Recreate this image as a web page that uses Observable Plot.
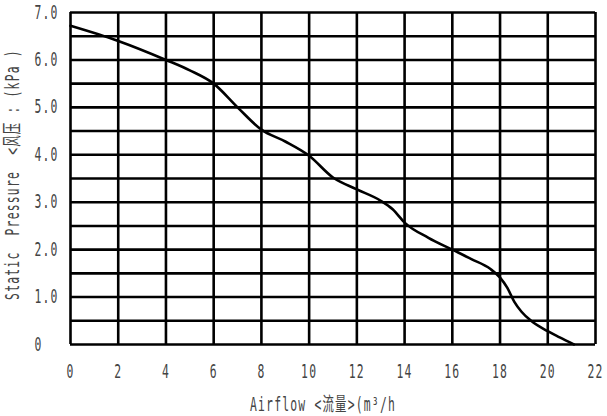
<!DOCTYPE html>
<html><head><meta charset="utf-8">
<script src="https://cdn.jsdelivr.net/npm/d3@7"></script>
<script src="https://cdn.jsdelivr.net/npm/@observablehq/plot@0.6"></script>
<style>body{margin:0;background:#fff} svg{display:block}</style>
</head><body><div id="chart"></div>
<script>
const airflow  = [0, 2, 4, 5, 6, 7, 8, 9, 10, 11, 12, 13, 13.5, 14, 15, 16, 16.8, 17.6, 18, 18.3, 18.6, 18.9, 19.3, 20, 20.5, 21.1];
const pressure = [6.72, 6.40, 6.0, 5.78, 5.5, 5.0, 4.53, 4.28, 3.98, 3.52, 3.27, 3.03, 2.85, 2.57, 2.25, 2.0, 1.8, 1.59, 1.41, 1.2, 0.9, 0.69, 0.5, 0.28, 0.15, 0.0];
const xTicks = [0, 2, 4, 6, 8, 10, 12, 14, 16, 18, 20, 22];
const yTicks = [0, 1, 2, 3, 4, 5, 6, 7];
const yGrid  = [0, 0.5, 1, 1.5, 2, 2.5, 3, 3.5, 4, 4.5, 5, 5.5, 6, 6.5, 7];
const xLabel = "Airflow <流量>(m³/h";
const yLabel = "Static  Pressure  <风压 : (kPa )";

const data = airflow.map((x, i) => ({x, y: pressure[i]}));
const ink = "#000";
const txt = "#444";

const chart = Plot.plot({
  width: 607, height: 416,
  marginLeft: 70, marginRight: 12, marginTop: 12, marginBottom: 72,
  x: {domain: [0, 22], label: null},
  y: {domain: [0, 7], label: null},
  style: {fontFamily: "'DejaVu Sans Mono', 'Noto Sans CJK SC', monospace", background: "#fff"},
  marks: [
    Plot.ruleY(yGrid, {stroke: ink, strokeWidth: 2.6}),
    Plot.ruleX(xTicks, {stroke: ink, strokeWidth: 2.6}),
    Plot.line(data, {x: "x", y: "y", curve: "monotone-x", stroke: ink, strokeWidth: 2.6}),
    Plot.axisX(xTicks, {tickSize: 0, tickPadding: 20, fontSize: 19, fill: txt, tickFormat: d => String(d)}),
    Plot.axisY(yTicks, {tickSize: 0, textAnchor: "start", dx: -27, fontSize: 19, fill: txt,
      tickFormat: d => d === 0 ? "0" : d.toFixed(1)}),
    Plot.text([xLabel], {frameAnchor: "bottom", textAnchor: "middle", dx: -10, dy: 66, fontSize: 19, fill: txt, text: d => d}),
    Plot.text([yLabel], {frameAnchor: "left", textAnchor: "middle", rotate: -90, dx: -58, dy: -4, fontSize: 19, fill: txt, text: d => d})
  ]
});

// narrow the monospaced glyphs horizontally (condensed look)
d3.select(chart).selectAll("text").each(function() {
  const t = this.getAttribute("transform");
  this.setAttribute("letter-spacing", "2");
  if (t) this.setAttribute("transform", t + " scale(0.6,1)");
});
document.getElementById("chart").appendChild(chart);
</script>
</body></html>
